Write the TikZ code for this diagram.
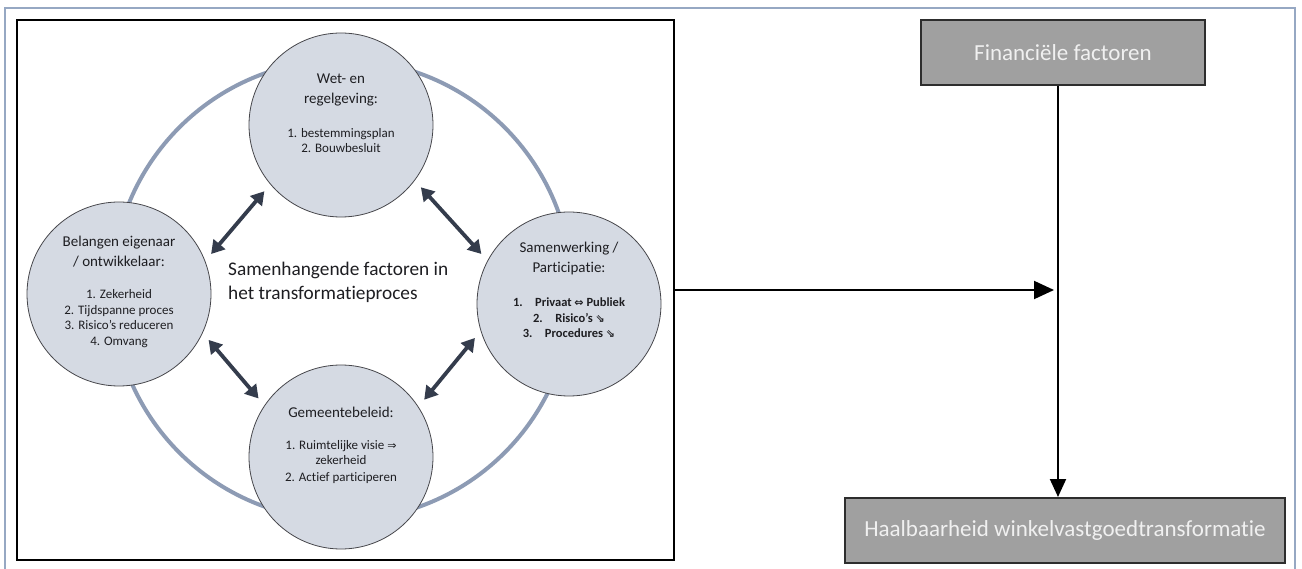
\documentclass[tikz,border=0pt]{standalone}
\usepackage{fontspec}
\setmainfont{Carlito}[Ligatures=NoCommon]
\newfontfamily\symfont{DejaVu Sans}
\usetikzlibrary{arrows.meta}

\definecolor{ringcol}{RGB}{141,155,180}
\definecolor{discfill}{RGB}{213,218,227}
\definecolor{discline}{RGB}{70,70,75}
\definecolor{linkcol}{RGB}{52,60,76}
\definecolor{framecol}{RGB}{150,168,195}
\definecolor{boxfill}{RGB}{160,160,160}
\definecolor{boxline}{RGB}{45,45,45}
\definecolor{inktext}{RGB}{30,30,34}

% arrow glyphs used inside the item lists
\newcommand{\sym}[1]{{\symfont\fontsize{11}{12}\selectfont #1}}

\begin{document}
\begin{tikzpicture}[x=1pt,y=-1pt,
  disc/.style={circle,draw=discline,line width=0.8pt,fill=discfill,minimum size=184pt,inner sep=0pt},
  title/.style={align=center,text=inktext,font=\fontsize{15}{20}\selectfont},
  items/.style={align=center,text=inktext,font=\fontsize{13}{15.7}\selectfont},
  link/.style={draw=linkcol,line width=3.8pt,
    {Triangle[length=13pt,width=15pt]}-{Triangle[length=13pt,width=15pt]},
    shorten <=9pt,shorten >=9pt},
  factor/.style={draw=boxline,line width=2pt,fill=boxfill,text=white!94!black,
    font=\fontsize{23}{27}\selectfont,inner sep=0pt,minimum height=65pt},
  flow/.style={draw=black,line width=2pt}
]
\useasboundingbox (0,0) rectangle (1302,569);

% page frame
\draw[framecol,line width=1.5pt] (5,590) -- (5,8) -- (1295,8) -- (1295,590);

% framed panel with the four factors
\node[draw=black,line width=2.5pt,minimum width=657pt,minimum height=540pt,inner sep=0pt] (panel) at (345.5,290) {};
\draw[ringcol,line width=4pt] (342,290) circle[radius=230];

\node[disc] (wet) at (341,125) {};
\node[disc] (belang) at (119,294) {};
\node[disc] (samen) at (569,304) {};
\node[disc] (gemeente) at (341,457) {};

\node[title] (wetT) at (341,90) {Wet- en\\regelgeving:};
\node[items] (wetI) at (341,140.5) {1. bestemmingsplan\\2. Bouwbesluit};

\node[title] (belangT) at (119,251.5) {Belangen eigenaar\\/ ontwikkelaar:};
\node[items] (belangI) at (119,318.5) {1. Zekerheid\\2. Tijdspanne proces\\3. Risico’s reduceren\\4. Omvang};

\node[title] (samenT) at (569,259) {Samenwerking /\\Participatie:};
\node[items,font=\fontsize{12.5}{15.5}\selectfont\bfseries] (samenI) at (569,318) {1.\quad Privaat \sym{⇔} Publiek\\2.\quad Risico’s \sym{⇘}\\3.\quad Procedures \sym{⇘}};

\node[title] (gemeenteT) at (341,412) {Gemeentebeleid:};
\node[items] (gemeenteI) at (341,462) {1. Ruimtelijke visie \sym{⇒}\\zekerheid\\[1.5pt]2. Actief participeren};

\node[anchor=west,align=left,text=inktext,font=\fontsize{19.3}{24}\selectfont,inner sep=0pt] (kern) at (228,282) {Samenhangende factoren in\\het transformatieproces};

\draw[link] (wet.220) -- (belang.21);
\draw[link] (wet.323) -- (samen.152);
\draw[link] (belang.335) -- (gemeente.146);
\draw[link] (samen.197) -- (gemeente.33);

% financial factors and the outcome
\node[factor,minimum width=284pt] (fin) at (1063,52.5) {Financiële factoren};
\node[factor,minimum width=440pt] (haal) at (1065,530.5) {Haalbaarheid winkelvastgoedtransformatie};
\coordinate (join) at (1058,290);

\draw[flow] (fin.south -| join) -- (join);
\draw[flow,-{Triangle[length=18pt,width=16pt]}] (join) -- (join |- haal.north);
\draw[flow,-{Triangle[length=20pt,width=18pt]},shorten >=4pt] (panel.east) -- (join);
\end{tikzpicture}
\end{document}
